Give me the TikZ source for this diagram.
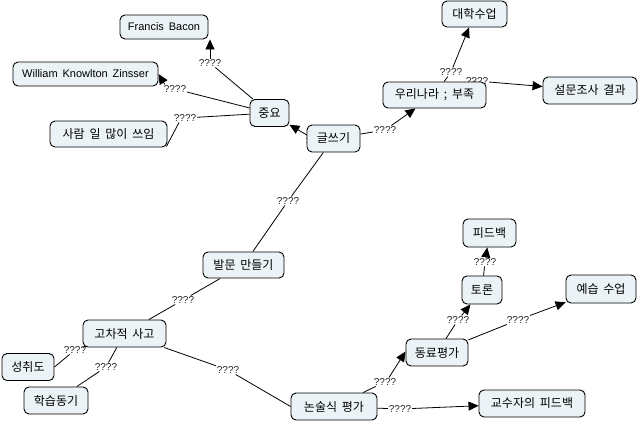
\documentclass[tikz,border=0pt]{standalone}
\usepackage{fontspec}
\newfontfamily\krfont[WordSpace=1.8]{Noto Sans CJK KR}
\newfontfamily\latfont[WordSpace=1.6]{Liberation Sans}
\usetikzlibrary{arrows.meta,backgrounds}
\definecolor{cfill}{RGB}{236,243,246}
\tikzset{
  concept/.style={draw=black, line width=0.9pt, fill=cfill, rounded corners=5pt,
    inner sep=0pt, align=center, font=\krfont\fontsize{12}{14}\selectfont},
  latin/.style={font=\latfont\fontsize{11}{13}\selectfont},
  lbl/.style={inner sep=0.8pt, font=\latfont\fontsize{10}{12}\selectfont, text=black!85},
  conn/.style={line width=0.8pt, draw=black},
  arr/.style={conn, -{Triangle[length=10pt,width=9pt]}},
}
\begin{document}
\begin{tikzpicture}[x=1pt,y=-1pt]
\useasboundingbox (0,0) rectangle (639,423);
% labels
\node[lbl] (lA) at (210,63) {????};
\node[lbl] (lB) at (175,89) {????};
\node[lbl] (lC) at (185,118) {????};
\node[lbl] (lD) at (317,141) {????};
\node[lbl] (lE) at (385,130) {????};
\node[lbl] (lF) at (451,72) {????};
\node[lbl] (lG) at (477,81) {????};
\node[lbl] (lH) at (288,201) {????};
\node[lbl] (lI) at (183,300) {????};
\node[lbl] (lJ) at (75,350) {????};
\node[lbl] (lK) at (106,367) {????};
\node[lbl] (lL) at (228,370) {????};
\node[lbl] (lM) at (385,382) {????};
\node[lbl] (lN) at (400,409) {????};
\node[lbl] (lO) at (458,320) {????};
\node[lbl] (lP) at (518,320) {????};
\node[lbl] (lQ) at (485,262) {????};
% concepts
\node[concept, latin, minimum width=88pt, minimum height=24pt] (fb) at (164,27) {Francis Bacon};
\node[concept, latin, minimum width=145pt, minimum height=24pt] (wkz) at (85.5,74) {William Knowlton Zinsser};
\node[concept, minimum width=117pt, minimum height=26pt] (sr) at (108.5,134) {사람 일 많이 쓰임};
\node[concept, minimum width=39pt, minimum height=27pt] (jy) at (269.5,113) {중요};
\node[concept, minimum width=53pt, minimum height=27pt] (gs) at (333.5,138.5) {글쓰기};
\node[concept, minimum width=103pt, minimum height=26pt] (wr) at (434.5,95) {우리나라 ; 부족};
\node[concept, minimum width=65pt, minimum height=26pt] (dh) at (474.5,14) {대학수업};
\node[concept, minimum width=94pt, minimum height=27pt] (sm) at (590,90.5) {설문조사 결과};
\node[concept, minimum width=81pt, minimum height=26pt] (bm) at (243.5,265) {발문 만들기};
\node[concept, minimum width=83pt, minimum height=27pt] (gc) at (124.5,333.5) {고차적 사고};
\node[concept, minimum width=52pt, minimum height=27pt] (sc) at (28,367) {성취도};
\node[concept, minimum width=64pt, minimum height=27pt] (hd) at (56,400.5) {학습동기};
\node[concept, minimum width=86pt, minimum height=27pt] (ns) at (334,406.5) {논술식 평가};
\node[concept, minimum width=106pt, minimum height=27pt] (gf) at (532,403.5) {교수자의 피드백};
\node[concept, minimum width=62pt, minimum height=27pt] (dp) at (437,352.5) {동료평가};
\node[concept, minimum width=40pt, minimum height=28pt] (tr) at (482,290) {토론};
\node[concept, minimum width=53pt, minimum height=28pt] (fd) at (489.5,233) {피드백};
\node[concept, minimum width=70pt, minimum height=28pt] (ys) at (601,289) {예습 수업};
% connectors
\begin{scope}[on background layer]
\fill[white] (0,0) rectangle (639,423);
\draw[conn] (jy) -- (lA);
\draw[arr] (lA.north) -- (lA.north |- fb.south);
\draw[conn] (jy) -- (lB);
\draw[arr] ([xshift=2pt]lB.north west) -- (wkz.east);
\draw[conn] (jy) -- (lC);
\draw[conn] ([xshift=-6pt]lC.south) -- ([shift={(-1,-1)}]sr.south east);
\draw[conn] (gs) -- (lD);
\draw[arr] (lD) -- (jy);
\draw[conn] (gs) -- (lE);
\draw[arr] (lE) -- (wr);
\draw[conn] (wr) -- (lF);
\draw[arr] (lF) -- (dh);
\draw[conn] (wr) -- (lG);
\draw[arr] (lG) -- (sm);
\draw[conn] (gs) -- (lH);
\draw[conn] (lH) -- (bm);
\draw[conn] (bm) -- (lI);
\draw[conn] (lI) -- (gc);
\draw[conn] (gc) -- (lJ);
\draw[conn] (lJ) -- (sc.east);
\draw[conn] (gc) -- (lK);
\draw[conn] (lK) -- (hd);
\draw[conn] (gc) -- (lL);
\draw[conn] (lL) -- (ns.west);
\draw[conn] (ns) -- (lM);
\draw[arr] ([xshift=4pt]lM.north) -- ([yshift=1pt]dp.west);
\draw[conn] (ns) -- (lN);
\draw[arr] (lN) -- (gf);
\draw[conn] (dp) -- (lO);
\draw[arr] (lO) -- (tr);
\draw[conn] (dp) -- (lP);
\draw[arr] (lP) -- (ys);
\draw[conn] (tr) -- (lQ);
\draw[arr] (lQ) -- (fd);
\end{scope}
\end{tikzpicture}
\end{document}
